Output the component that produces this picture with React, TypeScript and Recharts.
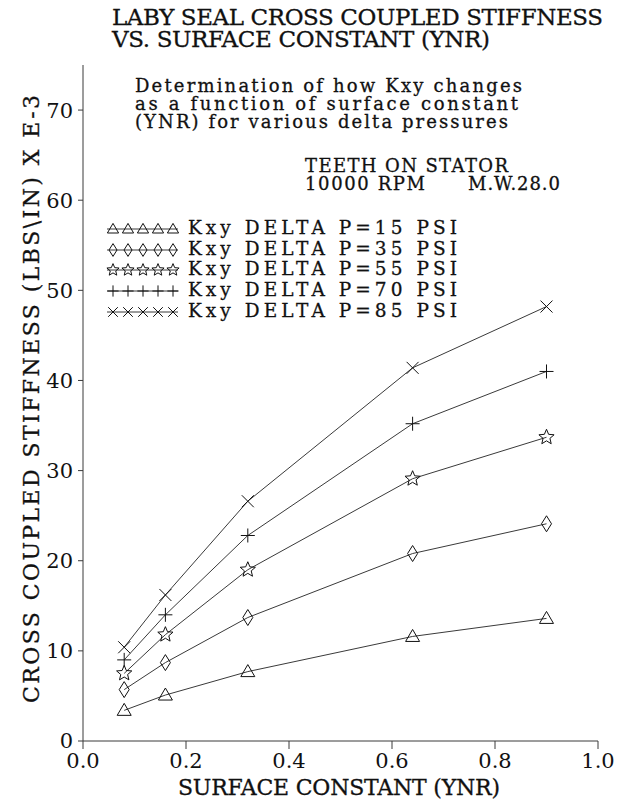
import { LineChart, Line, XAxis, YAxis } from 'recharts';

// surface constant (YNR) values on the x axis
const ynr = [0.08, 0.16, 0.32, 0.64, 0.9];

// Kxy (lbs/in x E-3) for each delta pressure
const kxy15 = [3.4, 5.1, 7.7, 11.6, 13.6];
const kxy35 = [5.7, 8.7, 13.7, 20.8, 24.1];
const kxy55 = [7.5, 11.8, 19.0, 29.1, 33.7];
const kxy70 = [9.0, 14.0, 22.8, 35.2, 41.0];
const kxy85 = [10.4, 16.2, 26.6, 41.4, 48.2];

const xTicks = [0, 0.2, 0.4, 0.6, 0.8, 1.0];
const yTicks = [0, 10, 20, 30, 40, 50, 60, 70];

const legendLabels = [
    'Kxy  DELTA  P=15  PSI',
    'Kxy  DELTA  P=35  PSI',
    'Kxy  DELTA  P=55  PSI',
    'Kxy  DELTA  P=70  PSI',
    'Kxy  DELTA  P=85  PSI',
];

const series = [
    { key: 'p15', shape: 'triangle', values: kxy15 },
    { key: 'p35', shape: 'diamond', values: kxy35 },
    { key: 'p55', shape: 'star', values: kxy55 },
    { key: 'p70', shape: 'plus', values: kxy70 },
    { key: 'p85', shape: 'cross', values: kxy85 },
];

const data = ynr.map((x, i) => {
    const row: Record<string, number> = { ynr: x };
    series.forEach(s => { row[s.key] = s.values[i]; });
    return row;
});

const FONT = "'DejaVu Serif', 'Liberation Serif', serif";
const INK = '#111';
const LINE = '#3a3a3a';

function starPath(cx: number, cy: number, r: number) {
    let d = '';
    for (let i = 0; i < 10; i++) {
        const rad = i % 2 === 0 ? r : r * 0.45;
        const a = -Math.PI / 2 + (i * Math.PI) / 5;
        d += `${i === 0 ? 'M' : 'L'}${cx + rad * Math.cos(a)},${cy + rad * Math.sin(a)}`;
    }
    return d + 'Z';
}

const Marker = ({ shape, cx, cy, k = 1 }: { shape: string; cx: number; cy: number; k?: number }) => {
    let d = '';
    if (shape === 'triangle') {
        d = `M${cx - 7 * k},${cy + 5 * k}L${cx + 7 * k},${cy + 5 * k}L${cx},${cy - 7 * k}Z`;
    } else if (shape === 'diamond') {
        d = `M${cx},${cy - 8 * k}L${cx + 5 * k},${cy}L${cx},${cy + 8 * k}L${cx - 5 * k},${cy}Z`;
    } else if (shape === 'star') {
        d = starPath(cx, cy, 8 * k);
    } else if (shape === 'plus') {
        d = `M${cx - 7 * k},${cy}H${cx + 7 * k}M${cx},${cy - 7 * k}V${cy + 7 * k}`;
    } else {
        d = `M${cx - 6 * k},${cy - 6 * k}L${cx + 6 * k},${cy + 6 * k}M${cx + 6 * k},${cy - 6 * k}L${cx - 6 * k},${cy + 6 * k}`;
    }
    return <path d={d} fill="none" stroke={INK} strokeWidth={1} />;
};

const legendBaselines = [234, 255, 275, 296, 317];

// shared look for the typed-in annotation texts
const txt = { fill: INK, stroke: INK, strokeWidth: 0.3, fontFamily: FONT, lengthAdjust: 'spacing' } as const;

const App = () => {
    return (
        <div style={{ position: 'absolute', left: 0, top: 0, width: 618, height: 804, background: '#fff' }}>
            <LineChart
                width={618}
                height={804}
                data={data}
                margin={{ top: 65, right: 20, bottom: 23, left: 23 }}
            >
                <XAxis
                    type="number"
                    dataKey="ynr"
                    domain={[0, 1]}
                    ticks={xTicks}
                    tickFormatter={(v: number) => v.toFixed(1)}
                    tickSize={8}
                    tickMargin={4}
                    height={40}
                    axisLine={{ stroke: LINE }}
                    tickLine={{ stroke: LINE }}
                    tick={{ fontSize: 21, fill: INK, fontFamily: FONT }}
                />
                <YAxis
                    type="number"
                    domain={[0, 75]}
                    ticks={yTicks}
                    tickSize={5}
                    tickMargin={5}
                    width={60}
                    axisLine={{ stroke: LINE }}
                    tickLine={{ stroke: LINE }}
                    tick={{ fontSize: 21, fill: INK, fontFamily: FONT }}
                />
                {series.map(s => (
                    <Line
                        key={s.key}
                        dataKey={s.key}
                        type="linear"
                        stroke={LINE}
                        strokeWidth={1}
                        isAnimationActive={false}
                        dot={(p: any) => <Marker key={`${s.key}-${p.index}`} shape={s.shape} cx={p.cx} cy={p.cy} />}
                        activeDot={false}
                    />
                ))}
            </LineChart>

            <svg
                width={618}
                height={804}
                style={{ position: 'absolute', left: 0, top: 0, pointerEvents: 'none' }}
            >
                {/* title */}
                <text x={112} y={25} fontSize={23} textLength={491} {...txt}>
                    LABY SEAL CROSS COUPLED STIFFNESS
                </text>
                <text x={112} y={47} fontSize={23} textLength={378} {...txt}>
                    VS. SURFACE CONSTANT (YNR)
                </text>

                {/* axis titles */}
                <text
                    transform="translate(39,399) rotate(-90)"
                    textAnchor="middle"
                    fontSize={22}
                    textLength={608}
                    {...txt}
                >
                    CROSS COUPLED STIFFNESS (LBS\IN) X E-3
                </text>
                <text x={339} y={795} textAnchor="middle" fontSize={22} textLength={322} {...txt}>
                    SURFACE CONSTANT (YNR)
                </text>

                {/* notes */}
                <text x={135} y={92} fontSize={18} textLength={387} {...txt}>
                    Determination of how Kxy changes
                </text>
                <text x={135} y={110} fontSize={18} textLength={383} {...txt}>
                    as a function of surface constant
                </text>
                <text x={135} y={128} fontSize={18} textLength={373} {...txt}>
                    (YNR) for various delta pressures
                </text>
                <text x={305} y={172} fontSize={18} textLength={203} {...txt}>
                    TEETH ON STATOR
                </text>
                <text x={305} y={190} fontSize={18} textLength={120} {...txt}>
                    10000 RPM
                </text>
                <text x={468} y={190} fontSize={18} textLength={92} {...txt}>
                    M.W.28.0
                </text>

                {/* legend */}
                {series.map((s, i) => {
                    const by = legendBaselines[i];
                    const my = by - 5;
                    return (
                        <g key={s.key}>
                            <line x1={107} x2={178} y1={my} y2={my} stroke={LINE} strokeWidth={1} />
                            {[0, 1, 2, 3, 4].map(j => (
                                <Marker key={j} shape={s.shape} cx={113 + j * 15} cy={my} k={0.8} />
                            ))}
                            <text x={188} y={by} fontSize={18.5} textLength={269} {...txt}>
                                {legendLabels[i]}
                            </text>
                        </g>
                    );
                })}
            </svg>
        </div>
    );
};

export default App;
